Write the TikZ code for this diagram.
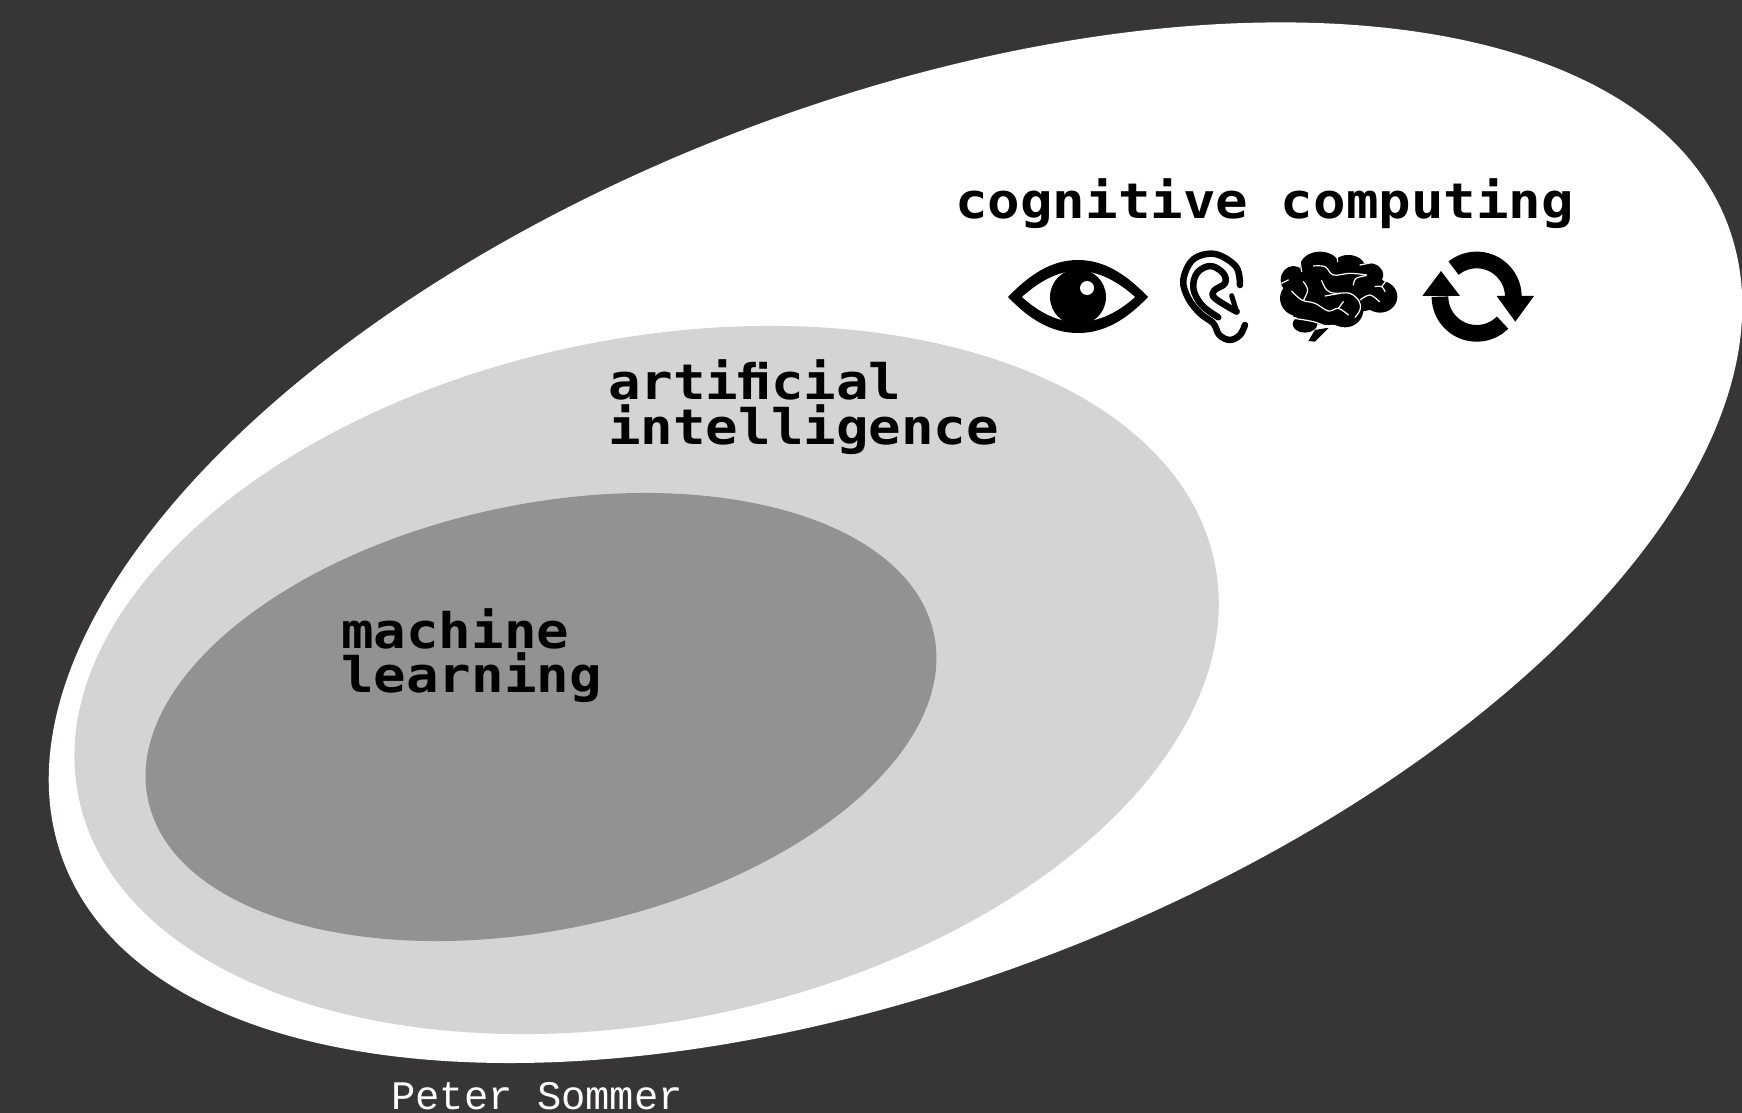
\documentclass[tikz,border=0pt]{standalone}
\usepackage{fontspec}
\newfontfamily\labelfont[FakeStretch=1.104]{DejaVu Sans Mono}
\newfontfamily\creditfont{Liberation Mono}
\definecolor{bgdark}{HTML}{373536}
\definecolor{midgrey}{HTML}{D4D4D4}
\definecolor{innergrey}{HTML}{929292}
\tikzset{
  bigtext/.style={inner sep=0pt,anchor=base west,align=left,text=black,font=\labelfont\bfseries\fontsize{49}{45}\selectfont},
  credit/.style={inner sep=0pt,anchor=base west,text=white,font=\creditfont\fontsize{40.5}{45}\selectfont},
  earline/.style={draw=black,line width=6.5pt,line cap=round,line join=round},
  brainline/.style={draw=white,line width=1.2pt,line cap=round},
  ringline/.style={draw=black,line width=16.7pt,line cap=butt}
}
\begin{document}
\begin{tikzpicture}[x=1pt,y=-1pt]
\useasboundingbox (0,0) rectangle (1742,1113);
\fill[bgdark] (0,0) rectangle (1742,1113);
% nested ellipses
\fill[white,shift={(895.5,542.7)},rotate=21] (0,0) ellipse [x radius=891pt,y radius=440pt];
\fill[midgrey,shift={(646.6,680)},rotate=11.7] (0,0) ellipse [x radius=580pt,y radius=341pt];
\fill[innergrey,shift={(541,717)},rotate=11.9] (0,0) ellipse [x radius=401.6pt,y radius=212.7pt];
% labels
\node[bigtext] (cc) at (955,218) {cognitive computing};
\node[bigtext] (ai1) at (608,399) {arti^^^^fb01cial};
\node[bigtext] (ai2) at (608,444) {intelligence};
\node[bigtext] (ml1) at (341,648) {machine};
\node[bigtext] (ml2) at (341,692) {learning};
\node[credit] (author) at (391,1109) {Peter Sommer};
% eye
\fill[black] (1008,297) .. controls (1030,274) and (1052,260) .. (1078,260)
  .. controls (1104,260) and (1126,274) .. (1148,297)
  .. controls (1126,320) and (1104,333) .. (1078,333)
  .. controls (1052,333) and (1030,320) .. (1008,297) -- cycle;
\fill[white] (1022,297) .. controls (1040,281) and (1058,271) .. (1078,271)
  .. controls (1098,271) and (1117,281) .. (1135,297)
  .. controls (1117,313) and (1098,322) .. (1078,322)
  .. controls (1058,322) and (1040,313) .. (1022,297) -- cycle;
\fill[black] (1078,297) circle [radius=28pt];
\fill[white] (1087,288) circle [radius=7pt];
% ear
\begin{scope}[shift={(980,230)},x=0.3333pt,y=-0.3333pt]
\draw[earline] plot[smooth,tension=0.6] coordinates {(780,165) (768,110) (705,72) (640,88) (610,150) (625,205) (660,250) (700,280) (718,315) (750,330) (780,315) (795,285)};
\draw[earline] plot[smooth,tension=0.6] coordinates {(715,262) (665,225) (640,175) (652,128) (692,108) (730,130) (735,160) (702,182) (705,205) (770,245)};
\draw[earline,line width=5pt] (755,197) -- (770,245);
\end{scope}
% brain
\begin{scope}[shift={(1260,230)},x=0.3333pt,y=-0.3333pt]
\fill[black] (180,110) ellipse [x radius=60,y radius=45];
\fill[black] (265,112) ellipse [x radius=50,y radius=37];
\fill[black] (325,135) ellipse [x radius=45,y radius=36];
\fill[black] (360,200) ellipse [x radius=52,y radius=48];
\fill[black] (100,150) ellipse [x radius=38,y radius=42];
\fill[black] (120,205) ellipse [x radius=60,y radius=55];
\fill[black] (200,215) ellipse [x radius=100,y radius=70];
\fill[black] (255,240) ellipse [x radius=55,y radius=52];
\fill[black] (135,282) ellipse [x radius=37,y radius=26];
\fill[black] (100,120) -- (300,100) -- (380,160) -- (400,225) -- (305,245) -- (290,270) -- (250,290) -- (100,260) -- cycle;
\fill[black] (165,300) -- (207,293) -- (165,335) -- (145,333) -- cycle;
\draw[brainline] plot[smooth,tension=0.6] coordinates {(160,108) (195,110) (220,135) (270,130) (320,135)};
\draw[brainline] plot[smooth,tension=0.6] coordinates {(318,137) (288,145) (280,165)};
\draw[brainline] plot[smooth,tension=0.6] coordinates {(185,152) (200,180) (225,190) (270,190) (298,215) (300,240) (285,262)};
\draw[brainline] plot[smooth,tension=0.6] coordinates {(195,198) (240,190)};
\draw[brainline] plot[smooth,tension=0.6] coordinates {(300,210) (330,195) (358,215)};
\draw[brainline] plot[smooth,tension=0.6] coordinates {(95,183) (125,210) (165,220) (205,243) (235,235) (265,255)};
\draw[brainline] plot[smooth,tension=0.6] coordinates {(235,235) (250,215)};
\draw[brainline] plot[smooth,tension=0.6] coordinates {(130,155) (143,180) (130,212)};
\draw[brainline] plot[smooth,tension=0.6] coordinates {(100,265) (160,275) (205,292)};
\draw[brainline] (120,95) -- (125,125);
\draw[brainline] (230,72) -- (233,95);
\draw[brainline] (300,105) -- (340,97);
\draw[brainline] plot[smooth,tension=0.6] coordinates {(345,170) (365,170) (375,185)};
\draw[brainline] (365,170) -- (380,150);
\draw[brainline] (65,160) -- (85,150);
% cycle arrows
\draw[ringline] plot[domain=129:0,samples=40] ({650+110*cos(\x)},{200-110*sin(\x)});
\draw[ringline] plot[domain=180:315,samples=40] ({650+110*cos(\x)},{200-110*sin(\x)});
\fill[black] (710,198) -- (822,198) -- (766,275) -- cycle;
\fill[black] (487,198) -- (600,198) -- (543,123) -- cycle;
\end{scope}
\end{tikzpicture}
\end{document}
